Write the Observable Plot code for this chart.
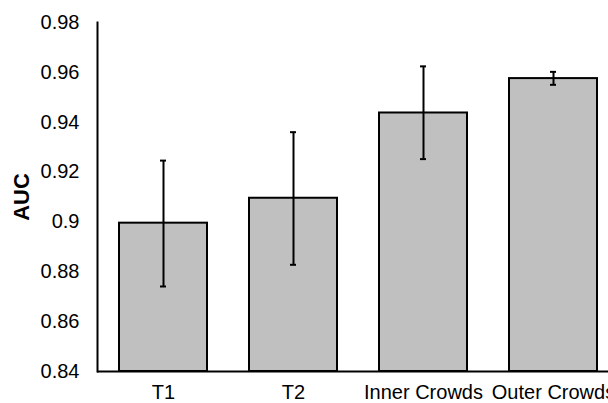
<!DOCTYPE html>
<html>
<head>
<meta charset="utf-8">
<script src="https://cdn.jsdelivr.net/npm/d3@7"></script>
<script src="https://cdn.jsdelivr.net/npm/@observablehq/plot@0.6"></script>
<style>
  html, body { margin: 0; padding: 0; background: #fff; overflow: hidden; width: 608px; height: 403px; }
  #chart { width: 608px; height: 403px; overflow: hidden; }
  #chart svg { max-width: none !important; }
  g[aria-label="y-axis label"] text { font-weight: bold; font-size: 22px; }
</style>
</head>
<body>
<div id="chart"></div>
<script>
const categories = ["T1", "T2", "Inner Crowds", "Outer Crowds"];
const auc = [0.8995, 0.9095, 0.9437, 0.9575];
const errLow = [0.8741, 0.8828, 0.9252, 0.9550];
const errHigh = [0.9246, 0.9360, 0.9624, 0.9602];
const yTicks = [0.84, 0.86, 0.88, 0.90, 0.92, 0.94, 0.96, 0.98];
const baseline = 0.84;

const data = categories.map((c, i) => ({name: c, auc: auc[i], lo: errLow[i], hi: errHigh[i]}));

const chart = Plot.plot({
  width: 620,
  height: 403,
  marginLeft: 97,
  marginRight: 1,
  marginTop: 22,
  marginBottom: 32,
  style: {fontFamily: "'Liberation Sans', Arial, sans-serif", fontSize: "20px", color: "#000", background: "#fff", maxWidth: "none", overflow: "visible"},
  x: {domain: categories, paddingInner: 0.326, paddingOuter: 0.163},
  y: {domain: [0.84, 0.98]},
  marks: [
    Plot.barY(data, {x: "name", y1: () => baseline, y2: "auc", fill: "#c0c0c0", stroke: "#000", strokeWidth: 2}),
    Plot.ruleX(data, {x: "name", y1: "lo", y2: "hi", stroke: "#000", strokeWidth: 2}),
    Plot.tickY(data, {x: "name", y: "lo", stroke: "#000", strokeWidth: 2, insetLeft: 41, insetRight: 41}),
    Plot.tickY(data, {x: "name", y: "hi", stroke: "#000", strokeWidth: 2, insetLeft: 41, insetRight: 41}),
    Plot.axisY({ticks: yTicks, tickSize: 0, tickPadding: 18, fontSize: 20, tickFormat: d => String(+d.toFixed(2)), label: "AUC", labelArrow: false, labelAnchor: "center", labelOffset: 84}),
    Plot.axisX({tickSize: 0, tickPadding: 13, fontSize: 20, label: null}),
    Plot.ruleY([baseline], {stroke: "#000", strokeWidth: 2}),
    Plot.frame({anchor: "left", stroke: "#000", strokeWidth: 2})
  ]
});
document.getElementById("chart").append(chart);
</script>
</body>
</html>
